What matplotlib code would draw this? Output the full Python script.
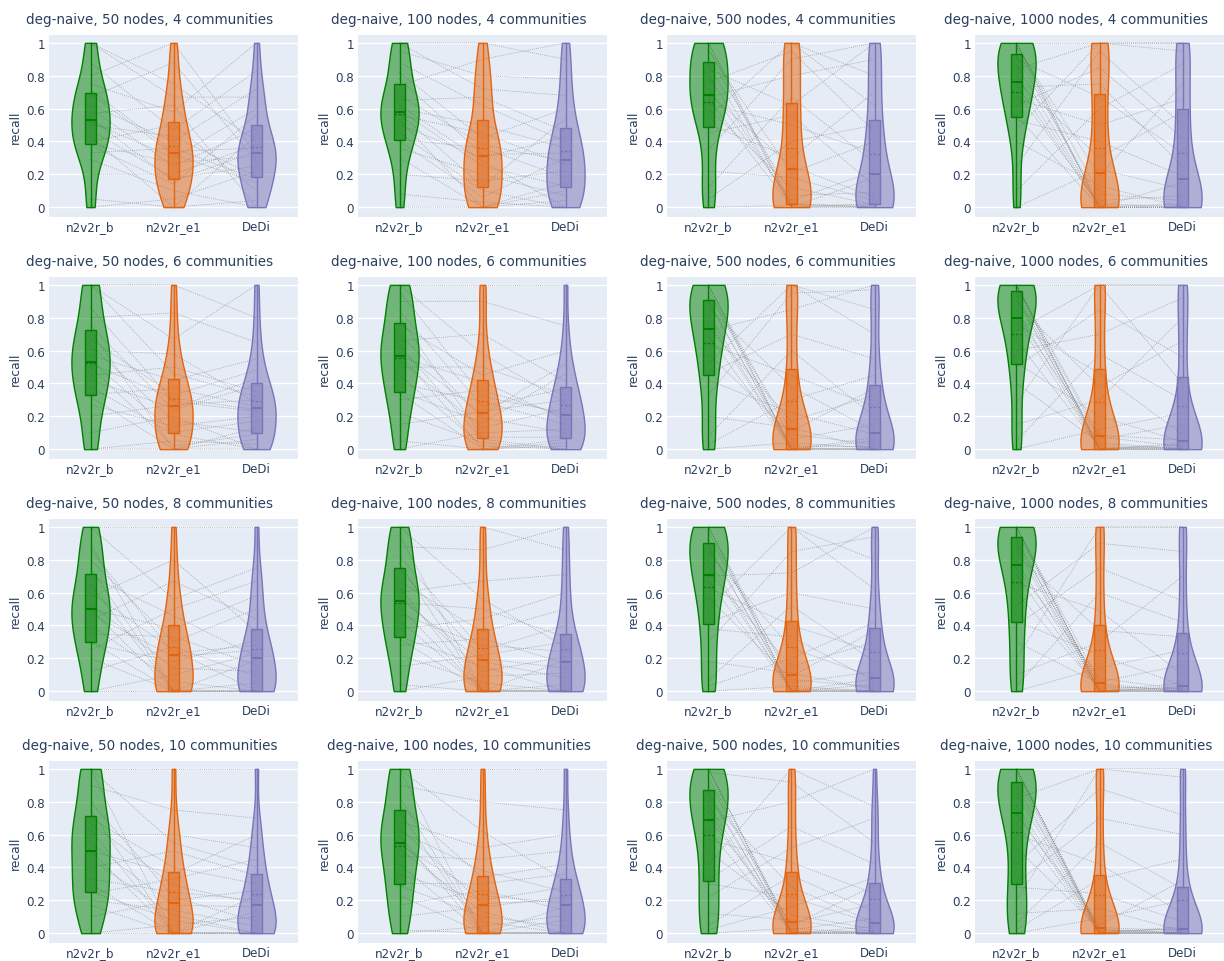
import matplotlib
matplotlib.use("Agg")
import matplotlib.pyplot as plt
from matplotlib.colors import to_rgba

# Grid of experiments
node_sizes = [50, 100, 500, 1000]
community_counts = [4, 6, 8, 10]
methods = ["n2v2r_b", "n2v2r_e1", "DeDi"]
method_colors = ["#008000", "#e2640f", "#7a74b8"]
yticks = [0, 0.2, 0.4, 0.6, 0.8, 1]
ytick_labels = ["0", "0.2", "0.4", "0.6", "0.8", "1"]

# Recall per network (same index = same network in the three lists of a panel)
b_50_4 = [0, 0.05, 0.2, 0.29, 0.33, 0.375, 0.385, 0.4, 0.43, 0.47, 0.5, 0.52, 0.54, 0.57, 0.6, 0.62, 0.67, 0.69, 0.71, 0.75, 0.8, 0.88, 1.0, 1.0]
e1_50_4 = [0.05, 0, 0.2, 0.1, 0.36, 0.14, 0.27, 0.5, 0, 0.175, 0.43, 0.3, 0.16, 0.62, 0.25, 0.4, 0.88, 0.32, 0.34, 0.58, 1.0, 0.47, 0.75, 0.67]
dedi_50_4 = [0.22, 0.04, 0.38, 0, 0.17, 0.56, 0.31, 0.1, 0.44, 0.25, 0.185, 0.6, 0.34, 0, 0.48, 0.72, 0.28, 0.15, 0.36, 1.0, 0.32, 0.83, 0.4, 0.67]

b_100_4 = [0, 0.08, 0.2, 0.3, 0.36, 0.4, 0.413, 0.45, 0.5, 0.53, 0.56, 0.57, 0.59, 0.6, 0.62, 0.65, 0.68, 0.74, 0.78, 0.82, 0.88, 0.95, 1.0, 1.0]
e1_100_4 = [0, 0.03, 0.16, 0, 0.2, 0.06, 0.36, 0.1, 0.3, 0, 0.45, 0.127, 0.25, 0.5, 0.28, 0.67, 0.38, 0.9, 0.32, 0.42, 0.62, 0.8, 1.0, 0.72]
dedi_100_4 = [0.04, 0, 0.22, 0.15, 0.07, 0.3, 0.18, 0, 0.43, 0.1, 0.26, 0.54, 0.127, 0.36, 0, 0.46, 0.28, 1.0, 0.33, 0.6, 0.4, 0.78, 0.9, 0.68]

b_500_4 = [0, 0.05, 0.12, 0.22, 0.35, 0.45, 0.503, 0.55, 0.6, 0.63, 0.66, 0.67, 0.69, 0.72, 0.76, 0.8, 0.84, 0.87, 0.92, 0.95, 0.97, 1.0, 1.0, 1.0]
e1_500_4 = [0.01, 0.4, 0.67, 0.18, 0.9, 0.56, 0.3, 1.0, 0.12, 0.5, 0, 0.8, 0.25, 0.04, 0.95, 0.015, 0.62, 0, 0.07, 0.21, 0, 0.022, 1.0, 0]
dedi_500_4 = [0, 0.5, 0.27, 0.04, 1.0, 0.13, 0.7, 0.8, 0.015, 0.33, 0, 0.9, 0.06, 0.22, 0.46, 0.01, 1.0, 0, 0.09, 0.4, 0.022, 0, 0.62, 0.18]

b_1000_4 = [0, 0.1, 0.25, 0.4, 0.47, 0.53, 0.557, 0.62, 0.66, 0.7, 0.73, 0.75, 0.77, 0.8, 0.84, 0.87, 0.9, 0.92, 0.97, 0.98, 1.0, 1.0, 1.0, 1.0]
e1_1000_4 = [0.23, 0.6, 0.95, 0.13, 1.0, 0.4, 0, 0.85, 0.5, 0.02, 0.75, 0, 0.3, 0.003, 1.0, 0, 0.67, 0.04, 0, 0.19, 0.08, 0, 1.0, 0]
dedi_1000_4 = [0.11, 0.87, 0.5, 0, 1.0, 0.19, 0, 0.42, 0.66, 0.003, 0.25, 0, 0.58, 0.02, 0.95, 0, 0.33, 0.07, 0, 0.75, 0.04, 0, 1.0, 0.15]

b_50_6 = [0, 0, 0.1, 0.2, 0.27, 0.32, 0.333, 0.38, 0.42, 0.45, 0.5, 0.52, 0.54, 0.57, 0.6, 0.63, 0.67, 0.72, 0.75, 0.8, 0.86, 1.0, 1.0, 1.0]
e1_50_6 = [0.05, 0, 0.2, 0.27, 0.14, 0, 0.37, 0.09, 0.25, 0.5, 0.02, 0.31, 0.103, 0.42, 0.58, 0.17, 0.33, 0, 0.24, 0.83, 0.29, 0.46, 1.0, 0.67]
dedi_50_6 = [0.03, 0.13, 0, 0.3, 0.2, 0.06, 0.26, 0, 0.43, 0.35, 0.09, 0.24, 0.17, 0.55, 0.28, 0.103, 0.48, 0, 0.39, 0.65, 0.23, 0.32, 0.8, 1.0]

b_100_6 = [0, 0.05, 0.15, 0.22, 0.3, 0.34, 0.353, 0.4, 0.45, 0.5, 0.54, 0.56, 0.58, 0.6, 0.63, 0.66, 0.7, 0.76, 0.8, 0.84, 0.9, 0.96, 1.0, 1.0]
e1_100_6 = [0.1, 0, 0.23, 0.04, 0.36, 0, 0.16, 0.29, 0.02, 0.5, 0.13, 0.41, 0, 0.21, 0.06, 0.7, 0.19, 0.45, 0.073, 0.26, 0.9, 0.32, 1.0, 0.58]
dedi_100_6 = [0.12, 0.02, 0.3, 0, 0.2, 0.06, 0.46, 0.15, 0, 0.33, 0.25, 0.18, 0.04, 0.52, 0, 0.41, 0.1, 0.6, 0.073, 0.37, 0.75, 0.22, 1.0, 0.28]

b_500_6 = [0, 0.03, 0.08, 0.2, 0.33, 0.42, 0.46, 0.52, 0.58, 0.64, 0.69, 0.72, 0.74, 0.78, 0.82, 0.86, 0.89, 0.9, 0.94, 0.97, 1.0, 1.0, 1.0, 1.0]
e1_500_6 = [0.04, 0.3, 0.6, 0.13, 0.95, 0.22, 0.7, 1.0, 0.09, 0.45, 0, 0.85, 0.17, 0.005, 0, 0.38, 0.02, 0, 0.11, 0, 1.0, 0, 0.06, 0]
dedi_500_6 = [0.005, 0.45, 0.2, 0, 0.97, 0.09, 0.55, 0.85, 0.03, 0.26, 0, 1.0, 0.33, 0, 0, 0.11, 0.015, 0, 0.37, 0.05, 0.7, 0, 0.15, 0.07]

b_1000_6 = [0, 0.05, 0.15, 0.28, 0.4, 0.5, 0.527, 0.6, 0.66, 0.72, 0.76, 0.79, 0.81, 0.85, 0.88, 0.91, 0.93, 0.95, 0.99, 1.0, 1.0, 1.0, 1.0, 1.0]
e1_1000_6 = [0.12, 0.58, 0.3, 1.0, 0.04, 0.85, 0.2, 0.7, 0.01, 1.0, 0.46, 0, 0.075, 0, 0.38, 0.005, 0, 0.025, 0, 0.06, 0, 1.0, 0.085, 0]
dedi_1000_6 = [0.22, 0.3, 0.8, 1.0, 0, 0.56, 0.045, 0.92, 0.008, 0.4, 0.09, 0, 0.015, 0, 0.66, 0, 0.035, 0.003, 0, 0.15, 0, 1.0, 0.055, 0.025]

b_50_8 = [0, 0, 0.12, 0.2, 0.25, 0.29, 0.303, 0.35, 0.4, 0.43, 0.47, 0.5, 0.5, 0.53, 0.57, 0.6, 0.65, 0.7, 0.75, 0.8, 0.86, 0.9, 1.0, 1.0]
e1_50_8 = [0, 0.1, 0.27, 0, 0.5, 0.18, 0, 0.33, 0.06, 0.67, 0.21, 0, 0.38, 0.14, 0.8, 0.25, 0, 0.46, 0.003, 0.3, 0.23, 0, 0.56, 1.0]
dedi_50_8 = [0, 0.23, 0.09, 0, 0.67, 0.31, 0.05, 0.16, 0, 0.44, 0.25, 0, 0.58, 0.12, 0.36, 0, 0.19, 0.21, 0.003, 0.5, 0.28, 0, 0.75, 1.0]

b_100_8 = [0, 0.04, 0.15, 0.22, 0.28, 0.32, 0.333, 0.38, 0.43, 0.47, 0.51, 0.54, 0.56, 0.58, 0.6, 0.63, 0.67, 0.74, 0.78, 0.82, 0.88, 0.95, 1.0, 1.0]
e1_100_8 = [0.09, 0, 0.22, 0.05, 0.32, 0, 0.15, 0.44, 0.005, 0.28, 0, 0.5, 0.18, 0.12, 0.67, 0, 0.36, 0.2, 0, 0.25, 0.86, 0, 1.0, 0.56]
dedi_100_8 = [0.11, 0, 0.3, 0, 0.17, 0.04, 0, 0.6, 0.005, 0.24, 0, 0.33, 0.08, 0.21, 0.71, 0, 0.5, 0.14, 0, 0.4, 1.0, 0.19, 0.86, 0.27]

b_500_8 = [0, 0.03, 0.07, 0.18, 0.3, 0.38, 0.42, 0.5, 0.57, 0.63, 0.67, 0.7, 0.72, 0.76, 0.8, 0.84, 0.87, 0.89, 0.93, 0.97, 1.0, 1.0, 1.0, 1.0]
e1_500_8 = [0.03, 0.2, 0.52, 0.11, 0.85, 0.33, 0.6, 1.0, 0.07, 0.4, 0, 0.72, 0.15, 0.004, 0, 0.26, 0.015, 0, 0.09, 0, 1.0, 0, 0.05, 0]
dedi_500_8 = [0, 0.42, 0.18, 0.01, 0.94, 0.06, 0.5, 0.8, 0.025, 0.24, 0, 1.0, 0.3, 0, 0, 0.085, 0.003, 0, 0.37, 0.04, 0.62, 0, 0.12, 0.075]

b_1000_8 = [0, 0.03, 0.1, 0.2, 0.3, 0.4, 0.427, 0.52, 0.6, 0.66, 0.71, 0.75, 0.79, 0.83, 0.86, 0.89, 0.91, 0.93, 0.97, 1.0, 1.0, 1.0, 1.0, 1.0]
e1_1000_8 = [0.14, 0.6, 0.3, 1.0, 0.045, 0.75, 0.22, 0.9, 0.015, 0.49, 0, 0.08, 0, 0.37, 0.005, 0, 0.035, 0, 0.025, 0, 1.0, 0.055, 0, 0]
dedi_1000_8 = [0.25, 0.42, 0.7, 1.0, 0, 0.55, 0.033, 0.85, 0.003, 0.1, 0, 0.01, 0, 0.33, 0, 0.02, 0, 0, 0.015, 0, 1.0, 0.16, 0.027, 0.05]

b_50_10 = [0, 0, 0.1, 0.17, 0.2, 0.24, 0.253, 0.3, 0.33, 0.4, 0.45, 0.5, 0.5, 0.55, 0.6, 0.63, 0.67, 0.7, 0.75, 0.8, 0.9, 1.0, 1.0, 1.0]
e1_50_10 = [0, 0.05, 0.2, 0, 0.14, 0.33, 0.08, 0, 0.25, 0.5, 0.11, 0.36, 0, 0.17, 0.6, 0.003, 0.29, 0.4, 0, 0.22, 0.75, 0, 1.0, 0.55]
dedi_50_10 = [0, 0.1, 0.26, 0, 0.04, 0.45, 0, 0.13, 0.2, 0.35, 0, 0.6, 0, 0.16, 0.52, 0.003, 0.18, 0.3, 0, 0.07, 0.7, 0.23, 1.0, 0.4]

b_100_10 = [0, 0.02, 0.1, 0.17, 0.23, 0.29, 0.303, 0.36, 0.42, 0.47, 0.51, 0.54, 0.56, 0.59, 0.62, 0.64, 0.68, 0.74, 0.78, 0.83, 0.9, 1.0, 1.0, 1.0]
e1_100_10 = [0.04, 0, 0.16, 0.26, 0, 0.1, 0.3, 0.2, 0, 0.45, 0.13, 0.23, 0.07, 0, 0.38, 0.18, 0.52, 0, 0.34, 0.004, 0.8, 0.62, 0, 1.0]
dedi_100_10 = [0.11, 0, 0.22, 0.14, 0, 0.04, 0.36, 0.28, 0.08, 0.5, 0, 0.18, 0, 0, 0.25, 0.2, 0.6, 0, 0.42, 0.004, 0.75, 0.32, 0.16, 1.0]

b_500_10 = [0, 0.02, 0.05, 0.12, 0.22, 0.3, 0.327, 0.42, 0.5, 0.57, 0.63, 0.68, 0.7, 0.74, 0.78, 0.81, 0.84, 0.86, 0.91, 0.95, 0.98, 1.0, 1.0, 1.0]
e1_500_10 = [0.03, 0.16, 0.35, 0.08, 0.52, 0.22, 0.65, 1.0, 0.11, 0.43, 0, 0.8, 0.06, 0.004, 0, 0.28, 0.012, 0, 0.045, 0, 0.92, 0, 0.02, 0]
dedi_500_10 = [0, 0.34, 0.13, 0.01, 0.7, 0.055, 0.42, 0.77, 0.025, 0.24, 0, 1.0, 0.18, 0, 0, 0.065, 0.003, 0, 0.29, 0.04, 0.55, 0, 0.09, 0.017]

b_1000_10 = [0, 0.02, 0.06, 0.12, 0.2, 0.28, 0.307, 0.42, 0.52, 0.6, 0.67, 0.72, 0.74, 0.78, 0.82, 0.85, 0.88, 0.91, 0.95, 0.98, 1.0, 1.0, 1.0, 1.0]
e1_1000_10 = [0.09, 0.33, 0.55, 0.15, 1.0, 0.24, 0.7, 0.88, 0.026, 0.42, 0, 0.05, 0, 0.01, 1.0, 0, 0.034, 0, 0.004, 0, 0.02, 0, 0.015, 0]
dedi_1000_10 = [0.2, 0.45, 0.27, 0.012, 0.95, 0.07, 0.6, 0.72, 0, 0.12, 0, 0.32, 0, 0.003, 1.0, 0, 0.016, 0, 0.007, 0.03, 0, 0.04, 0.022, 0]

recall = {
    (50, 4): (b_50_4, e1_50_4, dedi_50_4),
    (100, 4): (b_100_4, e1_100_4, dedi_100_4),
    (500, 4): (b_500_4, e1_500_4, dedi_500_4),
    (1000, 4): (b_1000_4, e1_1000_4, dedi_1000_4),
    (50, 6): (b_50_6, e1_50_6, dedi_50_6),
    (100, 6): (b_100_6, e1_100_6, dedi_100_6),
    (500, 6): (b_500_6, e1_500_6, dedi_500_6),
    (1000, 6): (b_1000_6, e1_1000_6, dedi_1000_6),
    (50, 8): (b_50_8, e1_50_8, dedi_50_8),
    (100, 8): (b_100_8, e1_100_8, dedi_100_8),
    (500, 8): (b_500_8, e1_500_8, dedi_500_8),
    (1000, 8): (b_1000_8, e1_1000_8, dedi_1000_8),
    (50, 10): (b_50_10, e1_50_10, dedi_50_10),
    (100, 10): (b_100_10, e1_100_10, dedi_100_10),
    (500, 10): (b_500_10, e1_500_10, dedi_500_10),
    (1000, 10): (b_1000_10, e1_1000_10, dedi_1000_10),
}

text_color = "#2a3f5f"
W, H = 1224, 962
col_left = [49, 358, 667, 975]
row_top = [36, 278, 520, 762]
ax_w, ax_h = 249, 182

fig = plt.figure(figsize=(W / 100, H / 100), dpi=100)

for r, comms in enumerate(community_counts):
    for c, nodes in enumerate(node_sizes):
        ax = fig.add_axes([col_left[c] / W, 1 - (row_top[r] + ax_h) / H, ax_w / W, ax_h / H])
        ax.set_facecolor("#e5ecf6")
        data = recall[(nodes, comms)]
        pos = [0, 1, 2]

        # lines joining the same network across methods
        for vals in zip(*data):
            ax.plot(pos, vals, color="#808080", ls=(0, (1, 1.5)), lw=0.6, alpha=0.7, zorder=1)

        parts = ax.violinplot(data, positions=pos, widths=0.46, showextrema=False, bw_method=0.45)
        for body, col in zip(parts["bodies"], method_colors):
            body.set_alpha(None)
            body.set_facecolor(to_rgba(col, 0.5))
            body.set_edgecolor(col)
            body.set_linewidth(1.0)
            body.set_zorder(2)

        bp = ax.boxplot(data, positions=pos, widths=0.13, whis=(0, 100), showcaps=False,
                        showfliers=False, patch_artist=True, showmeans=True, meanline=True,
                        manage_ticks=False, zorder=3)
        for i, col in enumerate(method_colors):
            bp["boxes"][i].set(facecolor=to_rgba(col, 0.5), edgecolor=col, linewidth=1.0)
            bp["whiskers"][2 * i].set(color=col, linewidth=1.0)
            bp["whiskers"][2 * i + 1].set(color=col, linewidth=1.0)
            bp["medians"][i].set(color=col, linewidth=1.4)
            bp["means"][i].set(color=col, linewidth=0.9, linestyle=(0, (2, 1.5)))

        ax.set_xlim(-0.5, 2.5)
        ax.set_ylim(-0.06, 1.048)
        ax.set_xticks(pos, methods)
        ax.set_yticks(yticks, ytick_labels)
        ax.grid(axis="y", color="white", linewidth=1.0)
        ax.set_axisbelow(True)
        for s in ax.spines.values():
            s.set_visible(False)
        ax.tick_params(length=0, labelsize=8.6, colors=text_color)
        ax.tick_params(axis="x", pad=2)
        ax.tick_params(axis="y", pad=3)
        ax.set_ylabel("recall", fontsize=8.8, color=text_color, labelpad=3)
        ax.text(0.405, 1 + 16 / ax_h, f"deg-naive, {nodes} nodes, {comms} communities",
                transform=ax.transAxes, ha="center", va="center", fontsize=9.75, color=text_color)

fig.savefig("out.png", dpi=100)
